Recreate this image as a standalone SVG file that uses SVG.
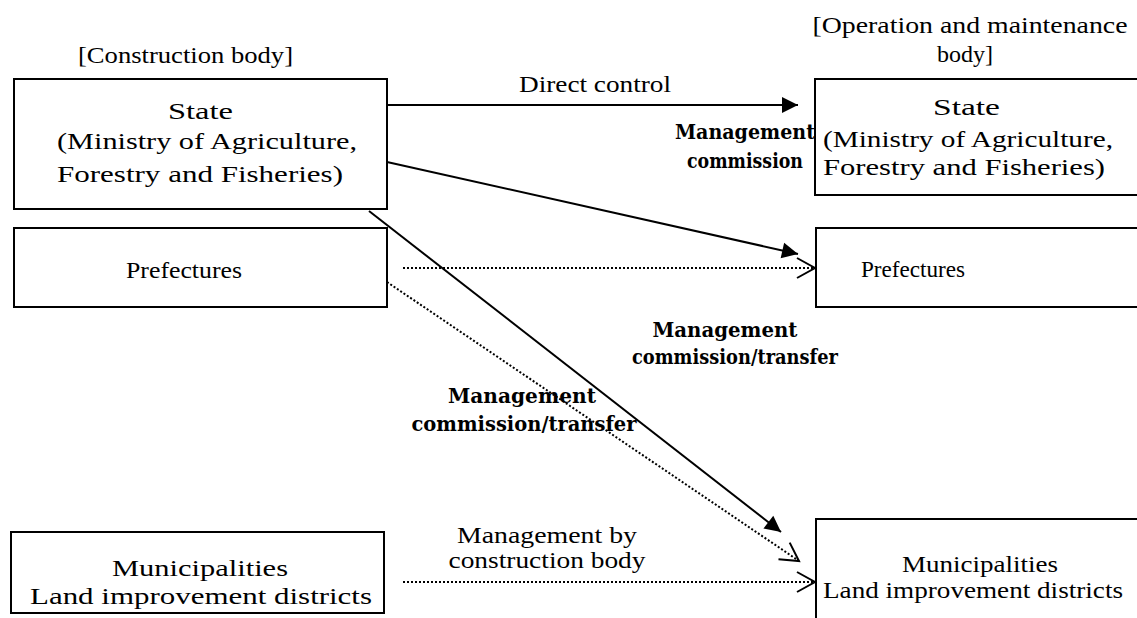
<svg xmlns="http://www.w3.org/2000/svg" width="1137" height="618" viewBox="0 0 1137 618">
<style>
.box{fill:#fff;stroke:#000;stroke-width:2}
.t{font-family:"Liberation Serif","Times New Roman",serif;font-size:24px;fill:#000}
.b{font-family:"DejaVu Serif","Liberation Serif",serif;font-size:20px;font-weight:bold;fill:#000}
.solid{stroke:#000;stroke-width:2;fill:none}
.dot{stroke:#000;stroke-width:2;fill:none;stroke-dasharray:2 2}
</style>
<defs>
<marker id="fill" markerUnits="userSpaceOnUse" markerWidth="18" markerHeight="18" refX="16" refY="8" orient="auto" overflow="visible">
<path d="M0,0 L16,8 L0,16 z" fill="#000" stroke="none"/>
</marker>
<marker id="open" markerUnits="userSpaceOnUse" markerWidth="20" markerHeight="22" refX="18" refY="10" orient="auto" overflow="visible">
<path d="M0,0 L18,10 L0,20" fill="none" stroke="#000" stroke-width="2" stroke-dasharray="none"/>
</marker>
</defs>
<rect width="1137" height="618" fill="#fff"/>

<text class="t" x="185.5" y="63" text-anchor="middle" textLength="215" lengthAdjust="spacingAndGlyphs">[Construction body]</text>
<text class="t" x="970" y="33" text-anchor="middle" textLength="315" lengthAdjust="spacingAndGlyphs">[Operation and maintenance</text>
<text class="t" x="965" y="62" text-anchor="middle" textLength="56" lengthAdjust="spacingAndGlyphs">body]</text>

<g id="connectors">
<line class="solid" x1="387" y1="105" x2="798" y2="105" marker-end="url(#fill)"/>
<line class="solid" x1="387" y1="162" x2="798" y2="254" marker-end="url(#fill)"/>
<line class="dot" x1="403" y1="268" x2="815" y2="268" marker-end="url(#open)"/>
<line class="solid" x1="369" y1="211" x2="781" y2="532" marker-end="url(#fill)"/>
<line class="dot" x1="387" y1="282" x2="799" y2="561" marker-end="url(#open)"/>
<line class="dot" x1="403" y1="582" x2="815" y2="582" marker-end="url(#open)"/>
<text class="t" x="595" y="92" text-anchor="middle" textLength="152" lengthAdjust="spacingAndGlyphs">Direct control</text>
<text class="b" x="745" y="139" text-anchor="middle" textLength="140" lengthAdjust="spacingAndGlyphs">Management</text>
<text class="b" x="745" y="168" text-anchor="middle" textLength="116" lengthAdjust="spacingAndGlyphs">commission</text>
<text class="b" x="725" y="337" text-anchor="middle" textLength="145" lengthAdjust="spacingAndGlyphs">Management</text>
<text class="b" x="735" y="364" text-anchor="middle" textLength="206" lengthAdjust="spacingAndGlyphs">commission/transfer</text>
<text class="b" x="522" y="403" text-anchor="middle" textLength="148" lengthAdjust="spacingAndGlyphs">Management</text>
<text class="b" x="524" y="431" text-anchor="middle" textLength="225" lengthAdjust="spacingAndGlyphs">commission/transfer</text>
<text class="t" x="547" y="543" text-anchor="middle" textLength="180" lengthAdjust="spacingAndGlyphs">Management by</text>
<text class="t" x="547" y="568" text-anchor="middle" textLength="197" lengthAdjust="spacingAndGlyphs">construction body</text>
</g>

<g id="state-construction">
<rect class="box" x="14" y="79" width="373" height="130"/>
<text class="t" x="200.5" y="119" text-anchor="middle" textLength="65" lengthAdjust="spacingAndGlyphs">State</text>
<text class="t" x="57" y="149" textLength="300" lengthAdjust="spacingAndGlyphs">(Ministry of Agriculture,</text>
<text class="t" x="57" y="182" textLength="286" lengthAdjust="spacingAndGlyphs">Forestry and Fisheries)</text>
</g>

<g id="prefectures-construction">
<rect class="box" x="14" y="228" width="373" height="79"/>
<text class="t" x="184" y="278" text-anchor="middle" textLength="116" lengthAdjust="spacingAndGlyphs">Prefectures</text>
</g>

<g id="municipalities-construction">
<rect class="box" x="11" y="532" width="373" height="81"/>
<text class="t" x="200" y="576" text-anchor="middle" textLength="176" lengthAdjust="spacingAndGlyphs">Municipalities</text>
<text class="t" x="201" y="604" text-anchor="middle" textLength="342" lengthAdjust="spacingAndGlyphs">Land improvement districts</text>
</g>

<g id="state-om">
<rect class="box" x="815" y="79" width="330" height="116"/>
<text class="t" x="966.5" y="115" text-anchor="middle" textLength="67" lengthAdjust="spacingAndGlyphs">State</text>
<text class="t" x="823" y="147" textLength="290" lengthAdjust="spacingAndGlyphs">(Ministry of Agriculture,</text>
<text class="t" x="823" y="175" textLength="282" lengthAdjust="spacingAndGlyphs">Forestry and Fisheries)</text>
</g>

<g id="prefectures-om">
<rect class="box" x="816" y="228" width="330" height="79"/>
<text class="t" x="913" y="277" text-anchor="middle" textLength="104" lengthAdjust="spacingAndGlyphs">Prefectures</text>
</g>

<g id="municipalities-om">
<rect class="box" x="816" y="519" width="330" height="110"/>
<text class="t" x="980" y="572" text-anchor="middle" textLength="156" lengthAdjust="spacingAndGlyphs">Municipalities</text>
<text class="t" x="973" y="598" text-anchor="middle" textLength="300" lengthAdjust="spacingAndGlyphs">Land improvement districts</text>
</g>
</svg>
